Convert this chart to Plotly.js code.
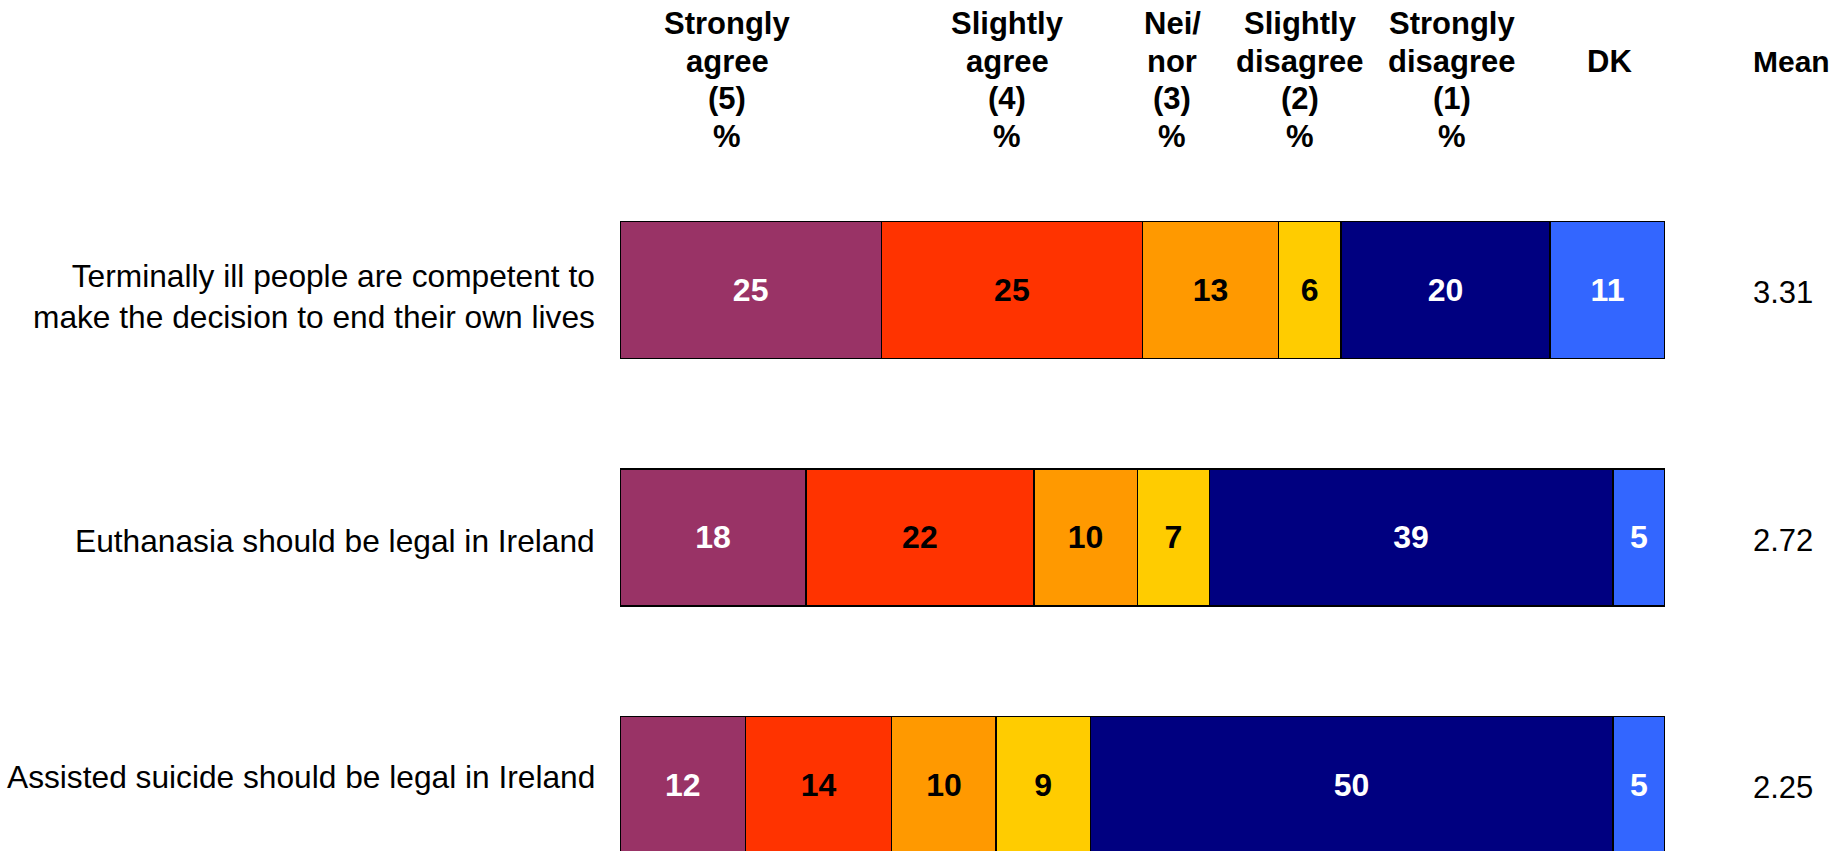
<!DOCTYPE html>
<html>
<head>
<meta charset="utf-8">
<script src="https://cdn.plot.ly/plotly-3.0.1.min.js"></script>
<style>html,body{margin:0;padding:0;background:#fff;}#chart{width:1844px;height:851px;}</style>
</head>
<body>
<div id="chart"></div>
<script>
// ---- data ----
const categories = [
  "Terminally ill people are competent to<br>make the decision to end their own lives",
  "Euthanasia should be legal in Ireland",
  "Assisted suicide should be legal in Ireland"
];
const seriesNames = ["Strongly agree (5)", "Slightly agree (4)", "Nei/nor (3)", "Slightly disagree (2)", "Strongly disagree (1)", "DK"];
const stronglyAgree    = [25, 17.8, 12];
const slightlyAgree    = [25, 21.8, 14];
const neiNor           = [13, 9.9, 10];
const slightlyDisagree = [6, 6.9, 9];
const stronglyDisagree = [20, 38.6, 50];
const dontKnow         = [11, 5.0, 5];
const means = ["3.31", "2.72", "2.25"];
const headerLabels = [
  ["Strongly", "agree", "(5)", "%"],
  ["Slightly", "agree", "(4)", "%"],
  ["Nei/", "nor", "(3)", "%"],
  ["Slightly", "disagree", "(2)", "%"],
  ["Strongly", "disagree", "(1)", "%"]
];
const dkLabel = "DK";
const meanLabel = "Mean";

// ---- styles ----
const colors = ["#993366", "#FF3300", "#FF9900", "#FFCC00", "#000080", "#3366FF"];
const textColors = ["#ffffff", "#000000", "#000000", "#000000", "#ffffff", "#ffffff"];
const FONT = "Liberation Sans, Arial, sans-serif";
const L = 620, R = 179, T = 160, B = 0, W = 1844 - L - R;
const px = p => (p - L) / W;
const headerX = [727, 1007, 1172, 1300, 1452];
const dkX = 1609, meanHeadX = 1791, meanValX = 1783;
const headerLineY = [23.5, 61, 98.5, 136];
const labelShift = [-7, -4, 8];

const allSeries = [stronglyAgree, slightlyAgree, neiNor, slightlyDisagree, stronglyDisagree, dontKnow];
const traces = allSeries.map((vals, i) => ({
  type: "bar",
  orientation: "h",
  name: seriesNames[i],
  y: categories,
  x: vals,
  marker: { color: colors[i], line: { color: "#000000", width: 1.5 } },
  texttemplate: "%{x:.0f}",
  textposition: "inside",
  insidetextanchor: "middle",
  textangle: 0,
  constraintext: "none",
  textfont: { family: FONT, size: 32, color: textColors[i], weight: "bold" },
  hoverinfo: "skip"
}));

const headFont = { family: FONT, size: 31, color: "#000", weight: "bold" };
const annotations = [];
headerLabels.forEach((lines, i) => {
  lines.forEach((t, j) => {
    annotations.push({
      xref: "paper", yref: "paper", x: px(headerX[i]), y: 1, yanchor: "middle",
      yshift: T - headerLineY[j], xanchor: "center", showarrow: false, text: t, font: headFont
    });
  });
});
annotations.push({
  xref: "paper", yref: "paper", x: px(dkX), y: 1, yanchor: "middle", yshift: T - headerLineY[1],
  xanchor: "center", showarrow: false, text: dkLabel, font: headFont
});
annotations.push({
  xref: "paper", yref: "paper", x: px(meanHeadX), y: 1, yanchor: "middle", yshift: T - headerLineY[1],
  xanchor: "center", showarrow: false, text: meanLabel, font: { family: FONT, size: 30, color: "#000", weight: "bold" }
});
categories.forEach((c, i) => {
  annotations.push({
    xref: "paper", yref: "y", x: 0, xshift: -23, y: c, yshift: labelShift[i], xanchor: "right", yanchor: "middle",
    align: "right", showarrow: false, text: c,
    font: { family: FONT, size: 31.7, color: "#000" }
  });
  annotations.push({
    xref: "paper", yref: "y", x: px(meanValX), y: c, yshift: -3, xanchor: "center", yanchor: "middle",
    showarrow: false, text: means[i],
    font: { family: FONT, size: 31, color: "#000" }
  });
});

const layout = {
  width: 1844, height: 851,
  margin: { l: L, r: R, t: T, b: B, pad: 0 },
  paper_bgcolor: "#ffffff", plot_bgcolor: "#ffffff",
  barmode: "stack",
  bargap: 0.446,
  showlegend: false,
  xaxis: { range: [0, 100], visible: false, fixedrange: true },
  yaxis: {
    type: "category", categoryarray: categories, categoryorder: "array",
    range: [2.267, -0.525], showticklabels: false, showgrid: false, zeroline: false,
    showline: false, ticks: "", fixedrange: true
  },
  annotations: annotations,
  font: { family: FONT }
};

Plotly.newPlot("chart", traces, layout, { displayModeBar: false, staticPlot: true });
</script>
</body>
</html>
